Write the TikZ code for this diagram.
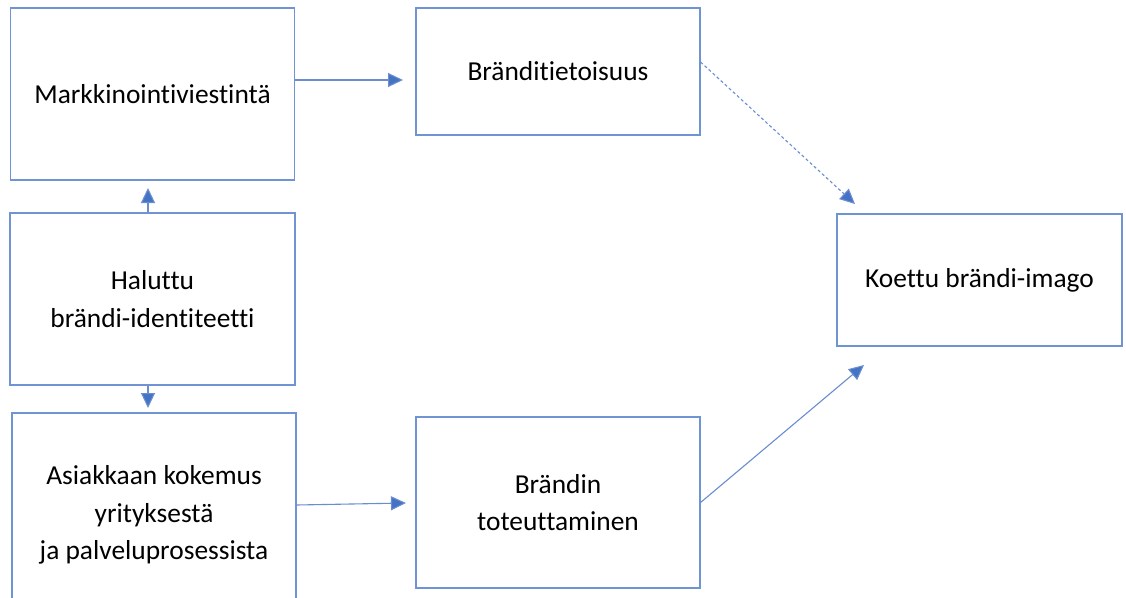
\documentclass[tikz,border=0pt]{standalone}
\usepackage{fontspec}
\setmainfont{Carlito}[Ligatures={NoCommon}]
\usetikzlibrary{arrows.meta,calc}
\definecolor{ofblue}{HTML}{4472C4}
\definecolor{boxline}{HTML}{6F93D3}
\tikzset{
  box/.style={draw=boxline, line width=1.1pt, fill=white, align=center, inner sep=0pt,
    font=\fontsize{27.4}{37.5}\selectfont, text=black},
  arr/.style={draw=ofblue!80, line width=1.1pt, -{Triangle[length=15pt,width=14pt,fill=ofblue]}},
  dasharr/.style={arr, dash pattern=on 3pt off 2.5pt}
}
\begin{document}
\begin{tikzpicture}[x=1pt,y=-1pt]
\useasboundingbox[fill=white] (0,0) rectangle (1126,597);
\node[box, minimum width=284pt, minimum height=172pt] (mk) at (152.5,94) {Markkinointiviestintä};
\node[box, minimum width=284pt, minimum height=127pt] (bt) at (558,71.5) {Bränditietoisuus};
\node[box, minimum width=285pt, minimum height=172pt] (hi) at (152.5,299) {Haluttu\\brändi-identiteetti};
\node[box, minimum width=284pt, minimum height=204pt] (ak) at (154,515) {Asiakkaan kokemus\\yrityksestä\\ja palveluprosessista};
\node[box, minimum width=284pt, minimum height=171pt] (tot) at (558,502.5) {Brändin\\toteuttaminen};
\node[box, minimum width=285pt, minimum height=132pt] (ko) at (979.5,280) {Koettu brändi-imago};
\coordinate (t1) at (403,80);
\coordinate (t2) at (148,188);
\coordinate (t3) at (148,408);
\coordinate (t4) at (406,503);
\coordinate (t5) at (864,365);
\coordinate (t6) at (855,204);
\draw[arr] (mk.east |- t1) -- (t1);
\draw[arr] (hi.north -| t2) -- (t2);
\draw[arr] (hi.south -| t3) -- (t3);
\draw[arr] ($(ak.east)+(0,-10)$) -- (t4);
\draw[arr] (tot.east) -- (t5);
\draw[dasharr] ($(bt.east)+(0,-9.5)$) -- (t6);
\end{tikzpicture}
\end{document}
